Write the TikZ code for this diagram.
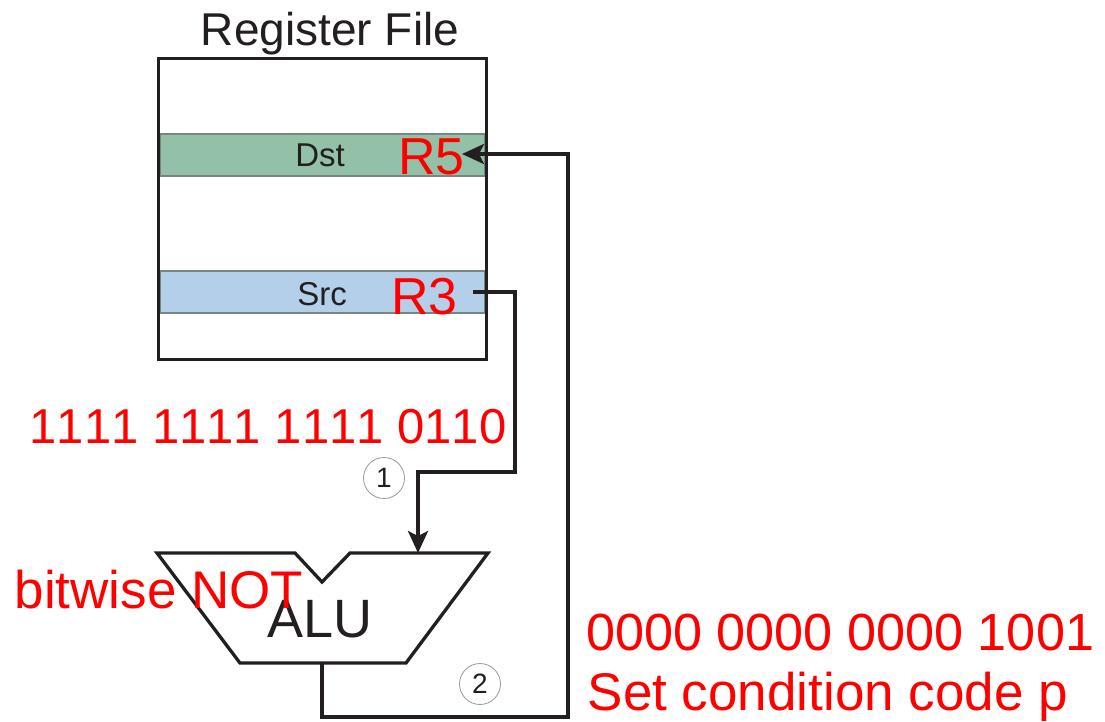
\documentclass[tikz,border=0pt]{standalone}
\usepackage{fontspec}
\setmainfont{Liberation Sans}[Kerning=Off]
\usetikzlibrary{arrows.meta}
\definecolor{ink}{HTML}{231F20}
\definecolor{dstgreen}{HTML}{93C1A7}
\definecolor{srcblue}{HTML}{B4CFE9}
\definecolor{bandedge}{HTML}{7A857E}
\definecolor{hlred}{HTML}{FF0000}
\newcommand{\sz}[1]{\fontsize{#1}{#1}\selectfont}
\begin{document}
\begin{tikzpicture}[x=1pt,y=-1pt,
  wire/.style={draw=ink,line width=3.3pt,line join=miter},
  tipped/.style={wire,-{Stealth[length=22pt,width=20pt,inset=5pt]}},
  band/.style={draw=bandedge,line width=1.5pt,inner sep=0pt,minimum width=325pt,minimum height=42pt},
  lbl/.style={inner sep=0pt,text=ink},
  redtxt/.style={inner sep=0pt,text=hlred,anchor=base west},
  stepno/.style={circle,draw=gray!80,line width=0.8pt,minimum size=41pt,inner sep=0pt,text=ink,font=\sz{28}}]
\useasboundingbox (0,0) rectangle (1105,721);

% register file: two highlighted rows inside a framed block
\node[band,fill=dstgreen] (dst) at (322.5,155) {};
\node[band,fill=srcblue]  (src) at (322.5,292) {};
\node[draw=ink,line width=3.3pt,inner sep=0pt,minimum width=328pt,minimum height=301pt] (rf) at (322.5,209) {};
\node[lbl,anchor=base,font=\sz{46}] (rftitle) at (330,45) {Register File};
\node[lbl,anchor=base,font=\sz{33}] (dstlbl) at (320,166) {Dst};
\node[lbl,anchor=base,font=\sz{33}] (srclbl) at (322,305) {Src};
\node[redtxt,font=\sz{52}] (r5) at (398,174) {R5};
\node[redtxt,font=\sz{52}] (r3) at (391,314) {R3};
\coordinate (dstin)  at (462,154);
\coordinate (srcout) at (473,292);

% ALU outline with its input notch
\draw[wire] (157,553) -- (295,553) -- (322,582) -- (350,553) -- (488,553)
  -- (406,663) -- (240,663) -- cycle;
\node[lbl,anchor=base,font=\sz{54}] (alu) at (320,637) {ALU};
\coordinate (aluin)  at (418,553);
\coordinate (aluout) at (322,663);

% data paths
\draw[tipped] (srcout) -| (515,472) -| (aluin);
\draw[tipped] (aluout) |- (568,717) |- (dstin);

% step markers
\node[stepno] (s1) at (384,478) {1};
\node[stepno] (s2) at (480,684) {2};

% annotations
\node[redtxt,font=\sz{49}] (srcval) at (29.5,443) {1111 1111 1111 0110};
\node[redtxt,font=\sz{53}] (op) at (14.5,608) {bitwise NOT};
\node[redtxt,font=\sz{52.2}] (resval) at (586,650) {0000 0000 0000 1001};
\node[redtxt,font=\sz{53}] (cc) at (587.5,710) {Set condition code p};
\end{tikzpicture}
\end{document}
